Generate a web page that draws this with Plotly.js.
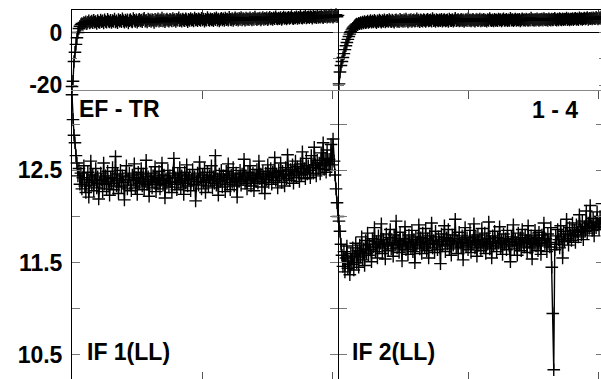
<!DOCTYPE html>
<html>
<head>
<meta charset="utf-8">
<script src="https://cdn.plot.ly/plotly-3.0.1.min.js"></script>
<style>
html, body { margin: 0; padding: 0; overflow: hidden; background: #fff; }
#chart { width: 620px; height: 400px; }
</style>
</head>
<body>
<div id="chart"></div>
<script>
// Panel labels
const panelLabels = ["EF - TR", "1 - 4", "IF 1(LL)", "IF 2(LL)"];

// Top panel (difference), segment 1
const topA = [
 -20.5, -18.5, -11.0, -7.5, -4.5, -2.0, 0.0, 1.5, 2.4, 3.0,
 3.4, 3.1, 3.8, 3.5, 4.1, 3.3, 3.9, 4.4, 3.6, 4.0,
 4.3, 3.7, 4.6, 3.9, 4.2, 3.4, 4.5, 4.0, 3.8, 4.7,
 4.1, 4.4, 3.6, 4.8, 4.2, 3.9, 5.0, 4.3, 4.0, 4.6,
 3.8, 4.5, 4.2, 5.1, 4.0, 4.4, 3.7, 4.9, 4.3, 4.6,
 4.1, 5.2, 4.4, 3.9, 4.7, 4.2, 4.8, 3.6, 4.5, 4.9,
 4.3, 4.0, 5.3, 4.6, 4.2, 4.8, 3.9, 4.5, 5.0, 4.4,
 4.7, 4.1, 4.9, 5.4, 4.3, 4.6, 4.0, 5.1, 4.5, 4.8,
 4.2, 4.9, 4.6, 3.8, 5.0, 4.4, 4.7, 5.2, 4.3, 4.8,
 4.5, 5.5, 4.4, 4.9, 4.1, 4.7, 5.1, 4.6, 4.3, 5.0,
 4.8, 4.4, 5.3, 4.6, 4.9, 4.2, 5.0, 4.7, 5.6, 4.5,
 4.9, 4.3, 5.1, 4.7, 4.5, 5.2, 4.8, 4.1, 5.0, 4.6,
 5.3, 4.7, 4.9, 4.4, 5.5, 4.8, 5.0, 4.5, 5.2, 4.9,
 4.6, 5.4, 4.8, 5.1, 4.3, 5.0, 4.7, 5.7, 4.9, 4.6,
 5.2, 4.8, 5.0, 4.5, 5.3, 4.9, 5.6, 4.7, 5.1, 4.4,
 5.0, 5.4, 4.8, 5.2, 4.6, 5.5, 4.9, 5.1, 4.7, 5.8,
 5.0, 4.8, 5.3, 4.6, 5.1, 5.6, 4.9, 5.2, 4.7, 5.4,
 5.0, 5.7, 4.8, 5.3, 5.1, 4.7, 5.5, 5.0, 5.2, 4.9,
 5.6, 5.1, 4.8, 5.4, 5.0, 5.9, 5.2, 4.9, 5.3, 5.1,
 5.5, 4.8, 5.2, 5.7, 5.0, 5.4, 5.1, 5.6, 4.9, 5.3,
 5.8, 5.1, 5.4, 5.0, 5.6, 5.2, 6.0, 5.3, 5.1, 5.5,
 5.2, 5.7, 5.0, 5.4, 5.9, 5.3, 5.6, 5.1, 5.5, 5.8,
 5.3, 5.6, 6.1, 5.4, 5.2, 5.7, 5.5, 6.0, 5.3, 5.8,
 5.5, 6.2, 5.6, 5.4, 5.9, 5.7, 6.3, 5.5, 5.8, 6.0,
 5.6, 6.1, 5.9, 5.4, 6.2, 5.8, 6.0, 5.6, 6.3, 5.7,
 6.0, 5.8, 6.4, 5.9, 5.6, 6.2, 6.0, 6.5, 5.8, 6.1,
 6.3, 5.9, 6.6, 6.1, 5.8, 6.4, 6.2, 6.8, 6.0, 6.5
];
// Top panel (difference), segment 2
const topB = [
 -19.5, -15.0, -12.5, -11.0, -9.5, -8.0, -6.5, -5.0, -3.8, -2.6,
 -1.5, -0.6, 0.3, 1.0, 1.6, 2.1, 2.5, 2.9, 3.2, 3.0,
 3.5, 3.3, 3.8, 3.4, 4.0, 3.6, 4.2, 3.7, 3.9, 4.3,
 3.8, 4.1, 4.5, 3.9, 4.3, 4.0, 4.6, 4.2, 3.7, 4.4,
 4.1, 4.7, 4.3, 3.9, 4.5, 4.2, 4.8, 4.0, 4.4, 4.6,
 4.2, 4.9, 4.4, 4.1, 4.7, 4.3, 3.9, 4.6, 4.8, 4.2,
 4.5, 4.1, 5.0, 4.4, 4.6, 4.2, 4.8, 4.3, 5.1, 4.5,
 4.0, 4.7, 4.4, 4.9, 4.2, 4.6, 4.8, 4.3, 4.5, 5.2,
 4.4, 4.7, 4.1, 4.8, 4.5, 4.3, 4.9, 4.6, 4.2, 4.7,
 5.0, 4.4, 4.6, 4.8, 4.3, 5.3, 4.5, 4.7, 4.2, 4.9,
 4.6, 4.4, 4.8, 4.5, 5.0, 4.3, 4.7, 4.9, 4.4, 4.6,
 4.8, 4.2, 5.1, 4.6, 4.5, 4.9, 4.3, 4.7, 5.4, 4.5,
 4.7, 4.9, 4.4, 4.6, 5.0, 4.5, 4.8, 4.2, 4.7, 4.9,
 4.5, 5.2, 4.6, 4.8, 4.4, 4.7, 5.0, 4.6, 4.3, 4.8,
 4.9, 4.5, 4.7, 5.1, 4.4, 4.8, 4.6, 5.0, 4.5, 4.7,
 4.3, 4.9, 4.6, 5.3, 4.7, 4.5, 4.8, 4.4, 5.0, 4.6,
 4.8, 4.5, 5.1, 4.7, 4.9, 4.4, 4.8, 5.2, 4.6, 4.7,
 5.0, 4.5, 4.8, 4.6, 5.4, 4.7, 4.9, 4.5, 4.8, 5.1,
 4.6, 4.9, 4.7, 5.0, 4.4, 4.8, 5.2, 4.7, 4.9, 4.6,
 5.1, 4.8, 4.6, 5.0, 4.7, 5.5, 4.8, 4.9, 4.6, 5.0,
 4.7, 5.2, 4.9, 4.6, 5.0, 4.8, 5.1, 4.7, 5.3, 4.9,
 4.8, 5.0, 4.6, 5.2, 4.9, 4.7, 5.1, 4.8, 5.0, 5.4,
 4.9, 4.7, 5.1, 4.8, 5.3, 5.0, 4.8, 5.2, 4.9, 5.1,
 5.0, 5.5, 4.9, 5.2, 4.8, 5.1, 5.0, 5.3, 4.9, 5.2,
 5.4, 5.0, 5.2, 4.9, 5.6, 5.1, 5.3, 5.0, 5.2, 5.5,
 5.1, 5.3, 5.7, 5.0, 5.4, 5.2, 5.5, 5.1, 5.6, 5.3,
 5.2, 5.8, 5.4, 5.1, 5.6, 5.3, 5.9, 5.5, 5.4, 6.0
];

// Bottom panel (IF values), segment 1
const lowA = [
 13.32, 13.05, 12.88, 12.80, 12.66, 12.58, 12.44, 12.52, 12.35, 12.47,
 12.30, 12.42, 12.55, 12.33, 12.26, 12.40, 12.48, 12.21, 12.37, 12.60,
 12.34, 12.45, 12.28, 12.39, 12.52, 12.31, 12.43, 12.19, 12.36, 12.47,
 12.40, 12.27, 12.58, 12.35, 12.44, 12.30, 12.49, 12.38, 12.23, 12.42,
 12.36, 12.53, 12.29, 12.41, 12.65, 12.33, 12.46, 12.25, 12.39, 12.50,
 12.32, 12.44, 12.37, 12.18, 12.43, 12.55, 12.30, 12.40, 12.47, 12.34,
 12.28, 12.45, 12.39, 12.57, 12.31, 12.42, 12.24, 12.48, 12.36, 12.41,
 12.52, 12.33, 12.46, 12.29, 12.38, 12.61, 12.35, 12.43, 12.22, 12.40,
 12.47, 12.31, 12.44, 12.37, 12.54, 12.27, 12.42, 12.35, 12.49, 12.30,
 12.39, 12.58, 12.34, 12.45, 12.20, 12.41, 12.36, 12.50, 12.32, 12.44,
 12.38, 12.26, 12.47, 12.63, 12.35, 12.42, 12.29, 12.46, 12.37, 12.53,
 12.31, 12.44, 12.39, 12.24, 12.48, 12.36, 12.56, 12.33, 12.41, 12.45,
 12.28, 12.40, 12.51, 12.35, 12.43, 12.17, 12.38, 12.47, 12.34, 12.59,
 12.42, 12.30, 12.45, 12.37, 12.52, 12.26, 12.40, 12.48, 12.33, 12.44,
 12.39, 12.55, 12.31, 12.43, 12.36, 12.66, 12.34, 12.41, 12.23, 12.46,
 12.38, 12.50, 12.32, 12.44, 12.40, 12.27, 12.49, 12.35, 12.57, 12.42,
 12.29, 12.45, 12.37, 12.53, 12.33, 12.41, 12.47, 12.21, 12.43, 12.38,
 12.50, 12.34, 12.46, 12.40, 12.62, 12.36, 12.44, 12.30, 12.48, 12.39,
 12.55, 12.33, 12.42, 12.47, 12.28, 12.45, 12.38, 12.51, 12.36, 12.60,
 12.41, 12.46, 12.32, 12.49, 12.43, 12.25, 12.47, 12.40, 12.56, 12.37,
 12.44, 12.52, 12.35, 12.48, 12.42, 12.64, 12.39, 12.46, 12.31, 12.50,
 12.43, 12.58, 12.37, 12.49, 12.45, 12.33, 12.53, 12.41, 12.67, 12.46,
 12.39, 12.51, 12.44, 12.56, 12.36, 12.49, 12.60, 12.42, 12.54, 12.47,
 12.38, 12.57, 12.45, 12.70, 12.48, 12.52, 12.41, 12.63, 12.46, 12.55,
 12.50, 12.42, 12.66, 12.53, 12.47, 12.75, 12.56, 12.44, 12.61, 12.52,
 12.58, 12.46, 12.69, 12.55, 12.80, 12.51, 12.63, 12.48, 12.72, 12.57,
 12.62, 12.50, 12.78, 12.56, 12.84, 12.60, 12.45, 12.30, 12.15, 12.00
];
// Bottom panel (IF values), segment 2
const lowB = [
 11.95, 11.84, 11.70, 11.58, 11.46, 11.62, 11.40, 11.55, 11.68, 11.44,
 11.52, 11.37, 11.60, 11.48, 11.66, 11.42, 11.57, 11.71, 11.50, 11.63,
 11.45, 11.69, 11.56, 11.78, 11.53, 11.65, 11.47, 11.74, 11.60, 11.82,
 11.58, 11.70, 11.64, 11.51, 11.76, 11.67, 11.88, 11.62, 11.73, 11.55,
 11.79, 11.66, 11.71, 11.92, 11.60, 11.75, 11.68, 11.54, 11.81, 11.70,
 11.63, 11.77, 11.86, 11.65, 11.72, 11.57, 11.80, 11.69, 11.95, 11.66,
 11.74, 11.61, 11.83, 11.70, 11.52, 11.76, 11.68, 11.89, 11.64, 11.73,
 11.59, 11.80, 11.71, 11.66, 11.85, 11.62, 11.75, 11.50, 11.78, 11.69,
 11.72, 11.91, 11.65, 11.77, 11.60, 11.82, 11.70, 11.67, 11.87, 11.63,
 11.76, 11.55, 11.79, 11.71, 11.93, 11.66, 11.74, 11.61, 11.84, 11.70,
 11.64, 11.78, 11.73, 11.49, 11.81, 11.68, 11.75, 11.90, 11.62, 11.77,
 11.70, 11.86, 11.65, 11.74, 11.58, 11.80, 11.69, 11.76, 11.97, 11.67,
 11.73, 11.60, 11.83, 11.71, 11.66, 11.79, 11.53, 11.75, 11.88, 11.68,
 11.77, 11.64, 11.72, 11.85, 11.61, 11.74, 11.70, 11.92, 11.66, 11.78,
 11.57, 11.80, 11.69, 11.75, 11.63, 11.87, 11.71, 11.67, 11.82, 11.60,
 11.76, 11.70, 11.94, 11.65, 11.73, 11.55, 11.79, 11.68, 11.84, 11.72,
 11.62, 11.77, 11.71, 11.89, 11.66, 11.74, 11.59, 11.81, 11.70, 11.76,
 11.64, 11.85, 11.72, 11.68, 11.51, 11.78, 11.73, 11.91, 11.65, 11.75,
 11.70, 11.58, 11.82, 11.69, 11.77, 11.63, 11.86, 11.71, 11.67, 11.80,
 11.74, 11.61, 11.90, 11.72, 11.66, 11.79, 11.54, 11.76, 11.70, 11.85,
 11.68, 11.77, 11.63, 11.83, 11.71, 11.59, 11.80, 11.74, 11.93, 11.69,
 11.76, 11.62, 11.81, 11.72, 11.67, 11.88, 11.45, 10.95, 10.34, 11.64,
 11.79, 11.70, 11.86, 11.75, 11.66, 11.90, 11.78, 11.55, 11.84, 11.73,
 11.81, 11.97, 11.76, 11.69, 11.88, 11.80, 11.74, 11.93, 11.79, 11.85,
 11.72, 11.91, 11.83, 11.78, 12.02, 11.86, 11.80, 11.95, 11.75, 11.89,
 11.84, 12.06, 11.82, 11.93, 11.87, 12.12, 11.90, 11.85, 11.98, 11.79,
 11.94, 11.88, 12.05, 11.91, 11.86, 12.00, 11.92, 12.14, 11.89, 11.96
];

// Axis ticks
const xTickVals = [0, 100, 200];
const topTickVals = [-20, -10, 0];
const topTickText = ["-20", "", "0"];
const lowTickVals = [10.5, 11, 11.5, 12, 12.5, 13];
const lowTickText = ["10.5", "", "11.5", "", "12.5", ""];

const SPAN = 204.6;
const xsOf = arr => arr.map((_, i) => i * SPAN / (arr.length - 1));

const FONT = "Liberation Sans, Arial, sans-serif";

function tr(y, xa, ya) {
  return {
    x: xsOf(y), y: y, xaxis: xa, yaxis: ya,
    type: "scatter", mode: "lines+markers", cliponaxis: false,
    line: { color: "#000", width: 1.4 },
    marker: { symbol: "cross-thin", size: 9, color: "#000", line: { color: "#000", width: 1.4 } },
    hoverinfo: "skip", showlegend: false
  };
}

const data = [
  tr(topA, "x", "y"),
  tr(topB, "x2", "y2"),
  tr(lowA, "x3", "y3"),
  tr(lowB, "x4", "y4")
];

const split = 1 - 81 / 370;
const mid = 0.5 + 1 / 532;

function xaxTop(dom, anchor) {
  return {
    domain: dom, anchor: anchor, range: [0, SPAN], side: "top",
    tickvals: xTickVals, showticklabels: false,
    ticks: "inside", ticklen: 5, tickcolor: "#333", tickwidth: 1,
    showline: true, mirror: false, linecolor: "#000", linewidth: 1,
    showgrid: false, zeroline: false
  };
}
function xaxLow(dom, anchor) {
  return {
    domain: dom, anchor: anchor, range: [0, SPAN],
    tickvals: xTickVals, showticklabels: false,
    ticks: "inside", ticklen: 8, tickcolor: "#555", tickwidth: 1,
    showline: true, mirror: "ticks", linecolor: "#888", linewidth: 1,
    showgrid: false, zeroline: false
  };
}
function yax(dom, anchor, topPanel, labels) {
  return {
    domain: dom, anchor: anchor,
    range: topPanel ? [-22.2, 8.54] : [10.229, 13.36],
    tickvals: topPanel ? topTickVals : lowTickVals,
    ticktext: topPanel ? topTickText : lowTickText,
    showticklabels: labels, ticklabelstandoff: 4,
    tickfont: { family: FONT, size: 23, color: "#000", weight: "bold" },
    ticks: "inside", ticklen: topPanel ? 5 : 8, tickcolor: "#777", tickwidth: 1,
    showline: true, mirror: "ticks", linecolor: "#000", linewidth: 1,
    showgrid: false,
    zeroline: topPanel, zerolinecolor: "#000", zerolinewidth: 1
  };
}

function ann(text, x, y, xanchor) {
  return {
    text: text, xref: "paper", yref: "paper", x: x, y: y,
    xanchor: xanchor, yanchor: "middle", showarrow: false,
    font: { family: FONT, size: 23, color: "#000", weight: "bold" }
  };
}

const layout = {
  width: 620, height: 400,
  margin: { l: 72, r: 16, t: 10, b: 20 },
  paper_bgcolor: "#fff", plot_bgcolor: "rgba(0,0,0,0)",
  showlegend: false,
  xaxis: xaxTop([0, 0.5], "y"),
  xaxis2: xaxTop([mid, 1], "y2"),
  xaxis3: xaxLow([0, 0.5], "y3"),
  xaxis4: xaxLow([mid, 1], "y4"),
  yaxis: yax([split, 1], "x", true, true),
  yaxis2: yax([split, 1], "x2", true, false),
  yaxis3: yax([0, split], "x3", false, true),
  yaxis4: yax([0, split], "x4", false, false),
  annotations: [
    ann(panelLabels[0], (77 - 72) / 532, (380 - 109) / 370, "left"),
    ann(panelLabels[1], (580 - 72) / 532, (380 - 110) / 370, "right"),
    ann(panelLabels[2], (85 - 72) / 532, (380 - 352) / 370, "left"),
    ann(panelLabels[3], (350 - 72) / 532, (380 - 352) / 370, "left")
  ]
};

Plotly.newPlot("chart", data, layout, { staticPlot: true, displayModeBar: false });
</script>
</body>
</html>
